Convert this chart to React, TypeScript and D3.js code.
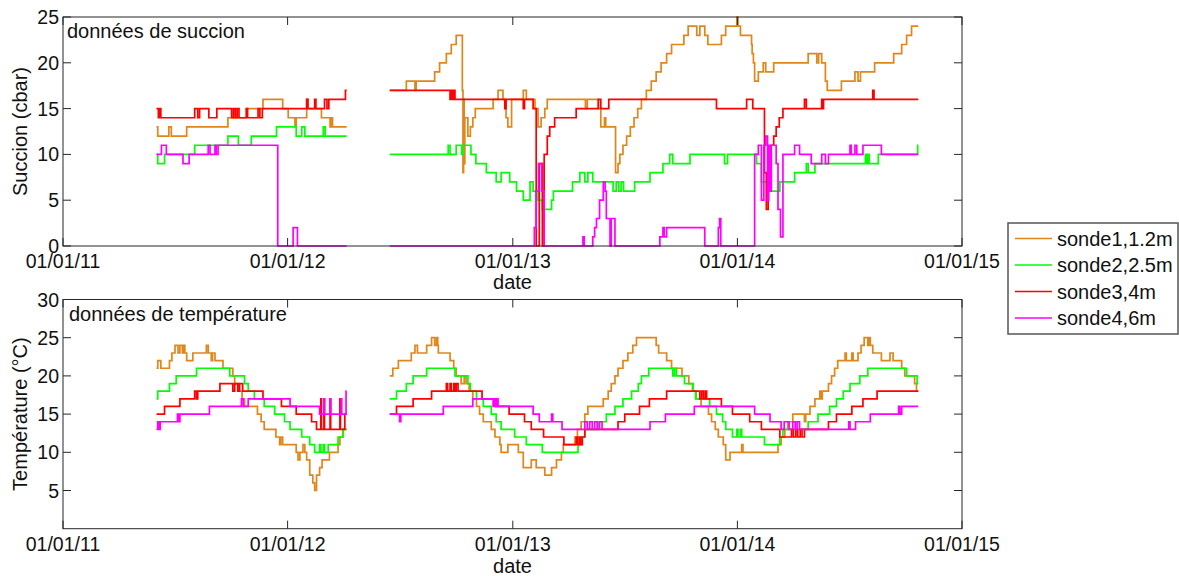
import React, { useEffect, useRef } from 'react';
import * as d3 from 'd3';

type Pt = [string, number | null];

// axis ticks and legend
const xTickDates = ['2011-01-01', '2012-01-01', '2013-01-01', '2014-01-01', '2015-01-01'];
const suctionTicks = [0, 5, 10, 15, 20, 25];
const tempTicks = [5, 10, 15, 20, 25, 30];
const seriesNames = ['sonde1,1.2m', 'sonde2,2.5m', 'sonde3,4m', 'sonde4,6m'];
const seriesColors = ['#e0861a', '#00ff00', '#ff0000', '#ff00ff'];

// suction (cbar), step values; null = gap in the record
const suction1: Pt[] = [
    ['2011-06-02', 13], ['2011-06-04', 12], ['2011-06-22', 13], ['2011-06-26', 12], ['2011-07-21', 13], ['2011-09-26', 14],
    ['2011-10-26', 15], ['2011-11-22', 16], ['2011-12-24', 15], ['2012-01-02', 14], ['2012-01-13', 13], ['2012-01-15', 14],
    ['2012-02-01', 16], ['2012-02-03', 15], ['2012-02-25', 14], ['2012-03-10', 13], ['2012-03-12', 14], ['2012-03-14', 13],
    ['2012-04-06', 13], ['2012-04-07', null],
    ['2012-06-15', 17], ['2012-07-12', 18], ['2012-07-26', 17], ['2012-07-28', 18], ['2012-08-27', 19], ['2012-09-04', 20],
    ['2012-09-15', 21], ['2012-09-23', 22], ['2012-10-01', 23], ['2012-10-11', 17], ['2012-10-12', 8], ['2012-10-13', 16],
    ['2012-10-14', 9], ['2012-10-15', 14], ['2012-10-20', 12], ['2012-10-24', 13], ['2012-10-28', 14], ['2012-11-01', 15],
    ['2012-11-30', 16], ['2012-12-08', 17], ['2012-12-16', 16], ['2012-12-21', 14], ['2012-12-24', 13], ['2012-12-30', 16],
    ['2013-01-18', 17], ['2013-01-23', 16], ['2013-02-06', 15], ['2013-02-11', 13], ['2013-02-16', 14], ['2013-02-22', 15],
    ['2013-02-26', 16], ['2013-04-29', 15], ['2013-05-02', 16], ['2013-05-20', 15], ['2013-05-24', 13], ['2013-05-30', 14],
    ['2013-06-01', 13], ['2013-06-17', 8], ['2013-06-21', 9], ['2013-06-24', 10], ['2013-06-29', 11], ['2013-07-05', 12],
    ['2013-07-11', 13], ['2013-07-17', 14], ['2013-07-23', 15], ['2013-07-29', 16], ['2013-08-06', 17], ['2013-08-14', 18],
    ['2013-08-22', 19], ['2013-08-30', 20], ['2013-09-08', 21], ['2013-09-16', 22], ['2013-10-06', 23], ['2013-10-13', 24],
    ['2013-10-27', 23], ['2013-11-01', 24], ['2013-11-09', 23], ['2013-11-14', 22], ['2013-12-06', 23], ['2013-12-13', 24],
    ['2013-12-31', 25], ['2014-01-02', 24], ['2014-01-06', 23], ['2014-01-24', 22], ['2014-01-25', 21], ['2014-01-27', 20],
    ['2014-01-29', 18], ['2014-02-04', 19], ['2014-02-12', 20], ['2014-02-16', 19], ['2014-03-01', 20], ['2014-04-26', 21],
    ['2014-05-10', 20], ['2014-05-13', 21], ['2014-05-18', 20], ['2014-05-24', 18], ['2014-05-27', 17], ['2014-06-19', 18],
    ['2014-07-11', 19], ['2014-07-16', 18], ['2014-07-20', 19], ['2014-08-12', 20], ['2014-09-12', 21], ['2014-09-25', 22],
    ['2014-10-03', 23], ['2014-10-11', 24], ['2014-10-22', 24],
];
const suction2: Pt[] = [
    ['2011-06-02', 10], ['2011-06-04', 9], ['2011-06-15', 10], ['2011-08-03', 11], ['2011-09-26', 12], ['2011-10-13', 11],
    ['2011-11-03', 12], ['2011-12-14', 13], ['2012-01-15', 12], ['2012-01-24', 13], ['2012-01-29', 12], ['2012-02-28', 13],
    ['2012-03-02', 12], ['2012-04-06', 12], ['2012-04-07', null],
    ['2012-06-15', 10], ['2012-09-18', 11], ['2012-09-21', 10], ['2012-10-01', 11], ['2012-10-10', 10], ['2012-10-12', 11],
    ['2012-10-25', 10], ['2012-11-02', 9], ['2012-11-19', 8], ['2012-12-05', 7], ['2012-12-13', 8], ['2012-12-27', 7],
    ['2013-01-07', 6], ['2013-01-18', 5], ['2013-01-29', 7], ['2013-02-03', 6], ['2013-02-11', 5], ['2013-02-18', 4],
    ['2013-03-05', 5], ['2013-03-08', 6], ['2013-04-08', 7], ['2013-04-20', 8], ['2013-04-28', 7], ['2013-05-03', 8],
    ['2013-05-11', 7], ['2013-06-13', 6], ['2013-06-18', 7], ['2013-06-22', 6], ['2013-06-26', 7], ['2013-06-30', 6],
    ['2013-07-18', 7], ['2013-08-12', 8], ['2013-09-02', 9], ['2013-09-13', 10], ['2013-09-18', 9], ['2013-10-16', 10],
    ['2013-12-11', 9], ['2013-12-16', 10], ['2014-02-01', 9], ['2014-02-09', 7], ['2014-02-23', 6], ['2014-03-11', 7],
    ['2014-04-04', 8], ['2014-04-23', 9], ['2014-04-26', 8], ['2014-05-07', 9], ['2014-07-28', 10], ['2014-07-30', 9],
    ['2014-08-01', 10], ['2014-08-03', 9], ['2014-08-18', 10], ['2014-10-21', 11], ['2014-10-22', 11],
];
const suction3: Pt[] = [
    ['2011-06-02', 15], ['2011-06-05', 14], ['2011-06-07', 15], ['2011-06-09', 14], ['2011-08-03', 15], ['2011-08-08', 14],
    ['2011-08-11', 15], ['2011-08-26', 14], ['2011-09-08', 15], ['2011-10-02', 14], ['2011-10-05', 15], ['2011-10-08', 14],
    ['2011-10-11', 15], ['2011-10-14', 14], ['2011-10-26', 15], ['2011-10-28', 14], ['2011-11-14', 15], ['2011-11-17', 14],
    ['2011-11-21', 15], ['2012-02-01', 16], ['2012-02-03', 15], ['2012-02-14', 16], ['2012-02-16', 15], ['2012-03-01', 16],
    ['2012-03-05', 15], ['2012-03-08', 16], ['2012-04-04', 17], ['2012-04-06', 17], ['2012-04-07', null],
    ['2012-06-15', 17], ['2012-09-21', 16], ['2012-09-23', 17], ['2012-09-25', 16], ['2012-09-27', 17], ['2012-09-29', 16],
    ['2012-12-19', 15], ['2012-12-21', 16], ['2013-01-18', 15], ['2013-01-20', 16], ['2013-02-03', 15], ['2013-02-08', 0],
    ['2013-02-13', 9], ['2013-02-18', 0], ['2013-02-21', 10], ['2013-02-26', 12], ['2013-03-02', 13], ['2013-03-10', 14],
    ['2013-04-14', 15], ['2013-05-20', 16], ['2013-05-24', 15], ['2013-06-06', 16], ['2013-11-28', 15], ['2014-01-16', 16],
    ['2014-01-26', 15], ['2014-02-14', 8], ['2014-02-17', 4], ['2014-02-20', 9], ['2014-02-22', 6], ['2014-02-25', 11],
    ['2014-03-01', 12], ['2014-03-05', 13], ['2014-03-10', 14], ['2014-03-16', 15], ['2014-04-20', 16], ['2014-04-23', 15],
    ['2014-05-18', 16], ['2014-05-20', 15], ['2014-05-21', 16], ['2014-08-09', 17], ['2014-08-11', 16], ['2014-10-22', 16],
];
const suction4: Pt[] = [
    ['2011-06-02', 10], ['2011-06-10', 11], ['2011-06-18', 10], ['2011-07-15', 9], ['2011-07-25', 10], ['2011-08-25', 11],
    ['2011-08-28', 10], ['2011-09-05', 11], ['2011-09-07', 10], ['2011-09-10', 11], ['2011-12-16', 0], ['2012-01-10', 2],
    ['2012-01-17', 0], ['2012-04-06', 0], ['2012-04-07', null],
    ['2012-06-15', 0], ['2013-02-05', 2], ['2013-02-08', 6], ['2013-02-12', 9], ['2013-02-17', 6], ['2013-02-21', 0],
    ['2013-04-25', 1], ['2013-04-27', 0], ['2013-05-11', 1], ['2013-05-14', 2], ['2013-05-17', 3], ['2013-05-22', 5],
    ['2013-05-28', 7], ['2013-05-31', 6], ['2013-06-02', 3], ['2013-06-08', 0], ['2013-06-10', 3], ['2013-06-16', 0],
    ['2013-08-28', 1], ['2013-09-02', 2], ['2013-09-04', 1], ['2013-09-08', 2], ['2013-11-09', 0], ['2013-12-01', 2],
    ['2013-12-03', 3], ['2013-12-05', 0], ['2014-01-29', 10], ['2014-02-04', 11], ['2014-02-09', 5], ['2014-02-13', 11],
    ['2014-02-16', 12], ['2014-02-19', 5], ['2014-02-21', 11], ['2014-02-23', 6], ['2014-02-25', 11], ['2014-03-05', 9],
    ['2014-03-08', 4], ['2014-03-12', 1], ['2014-03-16', 10], ['2014-04-04', 11], ['2014-04-12', 10], ['2014-05-01', 9],
    ['2014-05-18', 10], ['2014-05-24', 9], ['2014-05-29', 10], ['2014-07-03', 11], ['2014-07-05', 10], ['2014-07-11', 11],
    ['2014-07-14', 10], ['2014-07-24', 11], ['2014-08-23', 10], ['2014-10-22', 10],
];

// temperature (°C)
const temp1: Pt[] = [
    ['2011-06-02', 21], ['2011-06-04', 22], ['2011-06-09', 21], ['2011-06-23', 22], ['2011-06-27', 23], ['2011-07-02', 24],
    ['2011-07-07', 23], ['2011-07-10', 24], ['2011-07-14', 23], ['2011-07-16', 24], ['2011-07-18', 23], ['2011-07-21', 22],
    ['2011-07-31', 23], ['2011-08-22', 24], ['2011-08-25', 23], ['2011-08-30', 22], ['2011-09-01', 23], ['2011-09-05', 22],
    ['2011-09-18', 21], ['2011-10-04', 20], ['2011-10-07', 19], ['2011-10-14', 18], ['2011-10-19', 17], ['2011-10-23', 16],
    ['2011-11-13', 15], ['2011-11-19', 14], ['2011-11-24', 13], ['2011-12-13', 12], ['2011-12-19', 11], ['2011-12-21', 12],
    ['2011-12-24', 11], ['2012-01-15', 10], ['2012-01-18', 9], ['2012-01-21', 10], ['2012-01-26', 11], ['2012-01-29', 10],
    ['2012-02-01', 9], ['2012-02-06', 7], ['2012-02-11', 6], ['2012-02-14', 5], ['2012-02-17', 7], ['2012-02-22', 8],
    ['2012-02-26', 9], ['2012-03-09', 10], ['2012-03-23', 11], ['2012-03-26', 12], ['2012-03-31', 13], ['2012-04-06', 13],
    ['2012-04-07', null],
    ['2012-06-15', 20], ['2012-06-20', 21], ['2012-06-29', 22], ['2012-07-20', 23], ['2012-07-26', 24], ['2012-07-30', 23],
    ['2012-08-14', 24], ['2012-08-22', 25], ['2012-08-27', 24], ['2012-08-30', 25], ['2012-09-01', 24], ['2012-09-02', 23],
    ['2012-09-21', 22], ['2012-09-27', 21], ['2012-10-01', 20], ['2012-10-09', 19], ['2012-10-14', 20], ['2012-10-17', 19],
    ['2012-10-22', 18], ['2012-10-28', 17], ['2012-11-03', 16], ['2012-11-08', 15], ['2012-11-14', 14], ['2012-11-27', 13],
    ['2012-12-03', 12], ['2012-12-11', 11], ['2012-12-13', 10], ['2012-12-24', 11], ['2013-01-10', 10], ['2013-01-18', 8],
    ['2013-01-31', 9], ['2013-02-08', 8], ['2013-02-22', 7], ['2013-03-05', 8], ['2013-03-13', 9], ['2013-03-21', 10],
    ['2013-03-24', 11], ['2013-04-12', 12], ['2013-04-16', 13], ['2013-04-22', 14], ['2013-04-28', 15], ['2013-05-03', 16],
    ['2013-05-28', 17], ['2013-06-05', 18], ['2013-06-10', 19], ['2013-06-16', 20], ['2013-06-21', 21], ['2013-06-29', 22],
    ['2013-07-07', 23], ['2013-07-15', 24], ['2013-07-21', 25], ['2013-08-22', 24], ['2013-08-26', 23], ['2013-09-08', 22],
    ['2013-09-16', 21], ['2013-10-03', 20], ['2013-10-14', 19], ['2013-10-20', 18], ['2013-10-26', 17], ['2013-11-03', 16],
    ['2013-11-15', 15], ['2013-11-20', 14], ['2013-11-26', 13], ['2013-12-01', 12], ['2013-12-09', 11], ['2013-12-13', 9],
    ['2013-12-20', 10], ['2014-01-08', 11], ['2014-01-10', 10], ['2014-03-08', 11], ['2014-03-13', 12], ['2014-03-19', 13],
    ['2014-03-24', 14], ['2014-04-01', 15], ['2014-04-20', 14], ['2014-04-22', 15], ['2014-04-29', 16], ['2014-05-07', 17],
    ['2014-05-15', 18], ['2014-05-17', 17], ['2014-05-19', 18], ['2014-05-29', 19], ['2014-06-03', 20], ['2014-06-08', 21],
    ['2014-06-13', 22], ['2014-06-25', 23], ['2014-06-27', 22], ['2014-07-06', 23], ['2014-07-08', 22], ['2014-07-16', 23],
    ['2014-07-21', 24], ['2014-07-26', 25], ['2014-08-01', 24], ['2014-08-03', 25], ['2014-08-05', 24], ['2014-08-09', 23],
    ['2014-08-23', 22], ['2014-09-06', 23], ['2014-09-11', 22], ['2014-09-25', 21], ['2014-09-30', 20], ['2014-10-16', 19],
    ['2014-10-19', 18], ['2014-10-22', 18],
];
const temp2: Pt[] = [
    ['2011-06-02', 17], ['2011-06-04', 18], ['2011-06-23', 19], ['2011-07-04', 20], ['2011-08-06', 21], ['2011-09-29', 20],
    ['2011-10-23', 19], ['2011-10-29', 18], ['2011-11-08', 17], ['2011-11-24', 16], ['2011-12-11', 15], ['2011-12-27', 14],
    ['2012-01-05', 13], ['2012-01-24', 12], ['2012-02-06', 11], ['2012-02-14', 10], ['2012-02-22', 11], ['2012-02-24', 10],
    ['2012-02-28', 11], ['2012-03-01', 10], ['2012-03-07', 11], ['2012-03-23', 12], ['2012-03-31', 13], ['2012-04-06', 13],
    ['2012-04-07', null],
    ['2012-06-15', 17], ['2012-06-26', 18], ['2012-07-12', 19], ['2012-07-23', 20], ['2012-08-14', 21], ['2012-09-29', 20],
    ['2012-10-20', 19], ['2012-10-24', 18], ['2012-11-03', 17], ['2012-11-14', 16], ['2012-11-27', 15], ['2012-12-05', 14],
    ['2012-12-13', 13], ['2013-01-04', 12], ['2013-01-23', 11], ['2013-02-18', 10], ['2013-04-17', 11], ['2013-04-22', 12],
    ['2013-04-28', 13], ['2013-05-20', 14], ['2013-06-02', 15], ['2013-06-16', 16], ['2013-06-29', 17], ['2013-07-13', 18],
    ['2013-07-24', 19], ['2013-07-29', 20], ['2013-08-10', 21], ['2013-09-18', 20], ['2013-09-21', 21], ['2013-09-24', 20],
    ['2013-10-07', 19], ['2013-10-21', 18], ['2013-10-25', 17], ['2013-11-17', 16], ['2013-11-28', 15], ['2013-12-08', 14],
    ['2013-12-13', 13], ['2013-12-24', 12], ['2013-12-31', 13], ['2014-01-02', 12], ['2014-01-06', 13], ['2014-01-08', 12],
    ['2014-02-14', 11], ['2014-03-11', 12], ['2014-03-16', 13], ['2014-04-26', 14], ['2014-05-12', 15], ['2014-05-31', 16],
    ['2014-06-11', 17], ['2014-06-22', 18], ['2014-07-03', 19], ['2014-07-19', 20], ['2014-08-01', 21], ['2014-10-03', 20],
    ['2014-10-20', 19], ['2014-10-22', 19],
];
const temp3: Pt[] = [
    ['2011-06-02', 15], ['2011-06-15', 16], ['2011-07-10', 17], ['2011-08-03', 18], ['2011-08-06', 17], ['2011-08-08', 18],
    ['2011-09-13', 19], ['2011-10-04', 18], ['2011-10-07', 19], ['2011-10-12', 18], ['2011-10-15', 19], ['2011-10-20', 18],
    ['2011-11-22', 17], ['2011-12-22', 16], ['2012-01-15', 15], ['2012-02-09', 14], ['2012-02-17', 13], ['2012-02-24', 17],
    ['2012-02-25', 13], ['2012-02-29', 17], ['2012-03-01', 13], ['2012-03-10', 17], ['2012-03-11', 13], ['2012-03-26', 17],
    ['2012-03-27', 13], ['2012-04-03', 15], ['2012-04-06', 15], ['2012-04-07', null],
    ['2012-06-15', 15], ['2012-06-26', 16], ['2012-07-23', 17], ['2012-08-22', 18], ['2012-09-15', 19], ['2012-09-17', 18],
    ['2012-09-21', 19], ['2012-09-23', 18], ['2012-09-27', 19], ['2012-09-29', 18], ['2012-10-01', 19], ['2012-10-04', 18],
    ['2012-11-12', 17], ['2012-12-04', 16], ['2012-12-26', 15], ['2013-01-20', 14], ['2013-01-31', 13], ['2013-02-20', 12],
    ['2013-03-25', 11], ['2013-04-14', 12], ['2013-04-16', 11], ['2013-04-19', 12], ['2013-04-21', 11], ['2013-04-24', 12],
    ['2013-04-28', 13], ['2013-06-21', 14], ['2013-07-02', 15], ['2013-07-26', 16], ['2013-08-11', 17], ['2013-09-08', 18],
    ['2013-11-01', 17], ['2013-11-04', 18], ['2013-11-07', 17], ['2013-11-10', 18], ['2013-11-12', 17], ['2013-12-06', 16],
    ['2013-12-24', 15], ['2014-01-21', 14], ['2014-02-09', 13], ['2014-03-11', 12], ['2014-03-30', 13], ['2014-04-02', 12],
    ['2014-04-06', 13], ['2014-04-09', 12], ['2014-04-13', 13], ['2014-04-16', 12], ['2014-04-20', 13], ['2014-05-29', 14],
    ['2014-06-11', 15], ['2014-07-06', 16], ['2014-07-24', 17], ['2014-08-16', 18], ['2014-10-22', 18],
];
const temp4: Pt[] = [
    ['2011-06-02', 13], ['2011-06-04', 14], ['2011-06-06', 13], ['2011-06-08', 14], ['2011-07-06', 15], ['2011-07-08', 14],
    ['2011-07-10', 15], ['2011-08-27', 16], ['2011-10-18', 17], ['2011-10-21', 16], ['2011-10-29', 17], ['2012-01-05', 16],
    ['2012-02-22', 15], ['2012-02-29', 17], ['2012-03-01', 15], ['2012-03-10', 17], ['2012-03-11', 15], ['2012-03-28', 17],
    ['2012-03-29', 15], ['2012-04-05', 18], ['2012-04-06', 18], ['2012-04-07', null],
    ['2012-06-15', 15], ['2012-07-01', 14], ['2012-07-03', 15], ['2012-09-10', 16], ['2012-10-28', 17], ['2012-11-30', 16],
    ['2012-12-02', 17], ['2012-12-04', 16], ['2012-12-06', 17], ['2012-12-08', 16], ['2013-02-03', 15], ['2013-02-13', 14],
    ['2013-03-05', 15], ['2013-03-07', 14], ['2013-03-22', 13], ['2013-04-28', 14], ['2013-05-02', 13], ['2013-05-06', 14],
    ['2013-05-10', 13], ['2013-05-14', 14], ['2013-05-18', 13], ['2013-05-22', 14], ['2013-05-26', 13], ['2013-08-12', 14],
    ['2013-09-06', 15], ['2013-10-23', 16], ['2014-01-29', 15], ['2014-02-23', 14], ['2014-03-13', 13], ['2014-03-18', 14],
    ['2014-03-26', 13], ['2014-04-01', 14], ['2014-04-05', 13], ['2014-04-08', 14], ['2014-04-12', 13], ['2014-07-01', 14],
    ['2014-07-03', 13], ['2014-07-12', 14], ['2014-08-05', 15], ['2014-09-20', 16], ['2014-09-22', 15], ['2014-09-25', 16],
    ['2014-10-22', 16],
];

const FONT = '"Liberation Sans", Arial, sans-serif';

const App: React.FC = () => {
    const ref = useRef<SVGSVGElement | null>(null);

    useEffect(() => {
        if (!ref.current) return;
        const svg = d3.select(ref.current);
        svg.selectAll('*').remove();

        const parse = d3.timeParse('%Y-%m-%d');
        const left = 63, right = 962, tick = 8;
        const x = d3.scaleTime()
            .domain([parse('2011-01-01')!, parse('2015-01-01')!])
            .range([left, right]);
        const fmt = d3.timeFormat('%d/%m/%y');

        const panels = [
            {
                y: d3.scaleLinear().domain([0, 25]).range([246, 17]),
                ticks: suctionTicks, series: [suction1, suction2, suction3, suction4],
                title: 'données de succion', titleX: 67, titleY: 37.5,
                ylabel: 'Succion (cbar)', tickLabelY: 268, dateY: 289,
            },
            {
                y: d3.scaleLinear().domain([0, 30]).range([528.7, 299.5]),
                ticks: tempTicks, series: [temp1, temp2, temp3, temp4],
                title: 'données de température', titleX: 69, titleY: 321,
                ylabel: 'Température (°C)', tickLabelY: 551, dateY: 573,
            },
        ];

        panels.forEach(p => {
            const [yb, yt] = p.y.range();
            const g = svg.append('g');

            // data lines (step)
            p.series.forEach((s, i) => {
                const line = d3.line<Pt>()
                    .defined(d => d[1] !== null)
                    .x(d => x(parse(d[0])!))
                    .y(d => p.y(d[1] as number))
                    .curve(d3.curveStepAfter);
                g.append('path')
                    .attr('d', line(s) || '')
                    .attr('fill', 'none')
                    .attr('stroke', seriesColors[i])
                    .attr('stroke-width', 1.7);
            });

            // box
            g.append('rect')
                .attr('x', left).attr('y', yt)
                .attr('width', right - left).attr('height', yb - yt)
                .attr('fill', 'none').attr('stroke', '#262626').attr('stroke-width', 1);

            // x ticks, inward on bottom and top
            xTickDates.forEach(ds => {
                const xv = x(parse(ds)!);
                g.append('line').attr('x1', xv).attr('x2', xv).attr('y1', yb).attr('y2', yb - tick).attr('stroke', '#262626');
                g.append('line').attr('x1', xv).attr('x2', xv).attr('y1', yt).attr('y2', yt + tick).attr('stroke', '#262626');
                g.append('text')
                    .attr('x', xv).attr('y', p.tickLabelY)
                    .attr('text-anchor', 'middle')
                    .attr('font-family', FONT).attr('font-size', 19.5).attr('fill', '#111')
                    .text(fmt(parse(ds)!));
            });

            // y ticks, inward on left and right
            p.ticks.forEach(t => {
                const yv = p.y(t);
                g.append('line').attr('x1', left).attr('x2', left + tick).attr('y1', yv).attr('y2', yv).attr('stroke', '#262626');
                g.append('line').attr('x1', right).attr('x2', right - tick).attr('y1', yv).attr('y2', yv).attr('stroke', '#262626');
                g.append('text')
                    .attr('x', 59).attr('y', yv).attr('dy', '0.36em')
                    .attr('text-anchor', 'end')
                    .attr('font-family', FONT).attr('font-size', 19.5).attr('fill', '#111')
                    .text(t);
            });

            // title inside the axes
            g.append('text')
                .attr('x', p.titleX).attr('y', p.titleY)
                .attr('font-family', FONT).attr('font-size', 20).attr('fill', '#111')
                .text(p.title);

            // axis labels
            g.append('text')
                .attr('x', (left + right) / 2).attr('y', p.dateY)
                .attr('text-anchor', 'middle')
                .attr('font-family', FONT).attr('font-size', 20).attr('fill', '#111')
                .text('date');
            g.append('text')
                .attr('transform', `translate(27,${(yb + yt) / 2}) rotate(-90)`)
                .attr('text-anchor', 'middle')
                .attr('font-family', FONT).attr('font-size', 20).attr('fill', '#111')
                .text(p.ylabel);
        });

        // legend
        const lg = svg.append('g');
        lg.append('rect')
            .attr('x', 1008).attr('y', 223).attr('width', 170).attr('height', 111)
            .attr('fill', '#fff').attr('stroke', '#555').attr('stroke-width', 1.5);
        seriesNames.forEach((name, i) => {
            const ly = 238.5 + i * 26.5;
            lg.append('line')
                .attr('x1', 1015).attr('x2', 1052).attr('y1', ly).attr('y2', ly)
                .attr('stroke', seriesColors[i]).attr('stroke-width', 1.7);
            lg.append('text')
                .attr('x', 1057).attr('y', ly).attr('dy', '0.35em')
                .attr('font-family', FONT).attr('font-size', 20).attr('fill', '#111')
                .text(name);
        });
    }, []);

    return (
        <svg
            ref={ref}
            width={1179}
            height={576}
            style={{ position: 'absolute', left: 0, top: 0, background: '#fff' }}
        />
    );
};

export default App;
